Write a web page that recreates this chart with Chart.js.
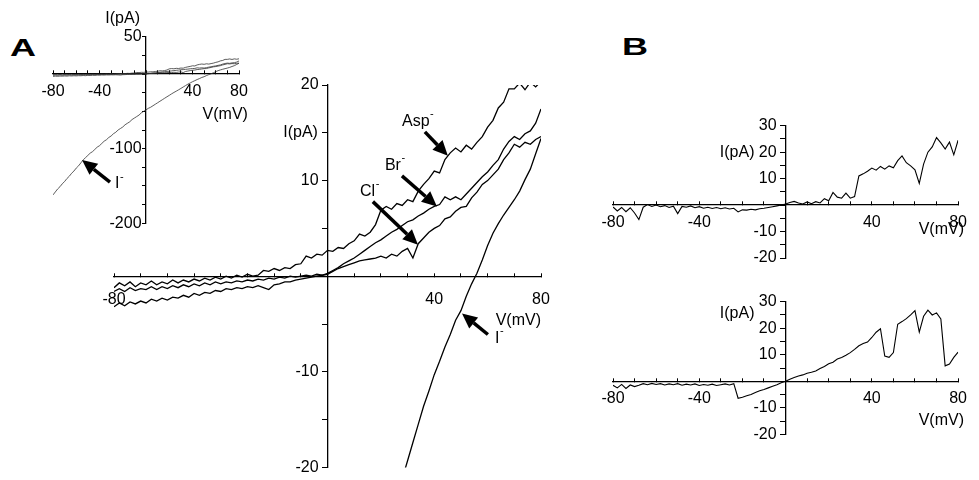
<!DOCTYPE html>
<html><head><meta charset="utf-8">
<script src="https://cdn.jsdelivr.net/npm/chart.js@4"></script>
<style>
html,body{margin:0;padding:0;background:#fff;width:979px;height:480px;overflow:hidden}
canvas{position:absolute;left:0;top:0}
.panel{position:absolute;font:bold 24px "Liberation Sans",Arial,sans-serif;line-height:24px;color:#000;transform:scaleX(1.5);transform-origin:0 0}
</style></head><body>
<div class="panel" style="left:10px;top:36px">A</div>
<div class="panel" style="left:622px;top:35px">B</div>
<canvas id="cMain" width="979" height="480"></canvas>
<canvas id="cInset" width="979" height="480"></canvas>
<canvas id="cB1" width="979" height="480"></canvas>
<canvas id="cB2" width="979" height="480"></canvas>
<script>
// ---------- data (mV, pA) ----------
const voltage = [
 -80,-78,-76,-74,-72,-70,-68,-66,-64,-62,
 -60,-58,-56,-54,-52,-50,-48,-46,-44,-42,
 -40,-38,-36,-34,-32,-30,-28,-26,-24,-22,
 -20,-18,-16,-14,-12,-10,-8,-6,-4,-2,
 0,2,4,6,8,10,12,14,16,18,
 20,22,24,26,28,30,32,34,36,38,
 40,42,44,46,48,50,52,54,56,58,
 60,62,64,66,68,70,72,74,76,78,
 80];
const iAsp = [
 -1.2,-0.7,-1.0,-0.6,-1.1,-0.7,-0.9,-0.5,-0.9,-0.6,
 -0.8,-0.4,-0.7,-0.4,-0.6,-0.3,-0.5,-0.2,-0.4,-0.1,
 -0.3,0.0,-0.2,0.1,-0.1,0.2,0.0,0.1,0.6,0.5,
 0.8,0.6,0.9,0.8,1.2,1.3,2.1,1.9,2.3,2.2,
 2.7,2.6,3.0,2.9,3.4,3.7,4.4,4.2,4.6,5.4,
 6.9,7.3,7.0,7.6,7.4,8.0,7.8,8.9,9.6,10.2,
 11.0,10.8,12.2,12.9,13.4,13.0,13.7,13.3,14.0,14.6,
 15.6,16.3,17.6,18.2,19.6,19.6,20.2,19.5,20.3,19.8,
 20.4];
const iBr = [
 -1.6,-1.3,-1.6,-1.2,-1.5,-1.3,-1.4,-1.1,-1.4,-1.1,
 -1.3,-1.0,-1.2,-0.9,-1.1,-0.8,-1.0,-0.7,-0.9,-0.6,
 -0.8,-0.6,-0.7,-0.5,-0.6,-0.4,-0.5,-0.3,-0.4,-0.2,
 -0.3,-0.1,-0.2,0.0,-0.1,0.0,0.1,0.0,0.2,0.1,
 0.3,0.6,0.9,1.3,1.6,1.9,2.3,2.7,3.1,3.5,
 3.8,4.2,4.6,4.9,5.3,5.7,5.9,6.3,6.6,7.0,
 7.3,7.5,8.3,8.0,8.3,8.0,8.6,9.2,9.8,10.4,
 10.9,11.6,12.2,13.3,14.1,14.6,14.3,14.9,15.2,16.0,
 17.5];
const iCl = [
 -3.2,-2.8,-3.1,-2.7,-2.9,-2.6,-2.8,-2.4,-2.6,-2.3,
 -2.5,-2.2,-2.3,-2.0,-2.2,-1.8,-2.0,-1.7,-1.8,-1.5,
 -1.6,-1.3,-1.4,-1.2,-1.3,-1.1,-1.2,-1.0,-1.2,-1.4,
 -0.9,-0.8,-0.6,-0.6,-0.4,-0.3,-0.2,-0.1,0.0,0.1,
 0.2,0.5,0.8,1.0,1.2,1.4,1.6,1.7,1.8,1.9,
 2.1,1.9,2.3,2.1,2.6,2.9,1.9,3.4,4.0,4.6,
 5.0,5.3,6.0,6.2,6.8,7.2,7.3,8.2,8.8,9.6,
 10.0,10.6,11.2,12.2,12.9,13.8,13.5,14.0,13.8,14.3,
 14.6];
const iIodide = [
 -162,-158,-154,-151,-147,-144,-140,-137,-133,-130,
 -126,-123,-119,-115,-112,-109,-106,-104,-101,-98,
 -96,-93,-90,-88,-85,-83,-80,-78,-75,-73,
 -71,-68,-66,-64,-61,-59,-57,-55,-52,-50,
 -48,-46,-44.5,-42.5,-40.5,-38.5,-36.5,-34.5,-32.5,-30.5,
 -28.6,-26.6,-24.7,-23.0,-21.2,-19.3,-17.4,-15.5,-13.6,-12.0,
 -10.3,-8.9,-7.4,-6.1,-4.6,-3.6,-2.1,-0.8,0.3,1.7,
 3.2,4.5,5.5,6.4,7.2,8.0,8.9,10.1,11.2,12.8,
 14.4];
const iB1 = [
 -0.7,-2.2,-0.9,-2.5,-1.0,-3.0,-5.5,-0.8,0.2,-0.5,
 0.0,-0.6,-0.2,-0.9,-0.4,-3.2,-0.5,-0.8,-0.3,-1.0,
 -0.6,-1.2,-0.8,-1.3,-0.9,-1.4,-1.0,-1.5,-1.2,-2.6,
 -1.8,-1.9,-1.6,-1.8,-1.4,-1.2,-0.9,-0.6,-0.3,0.0,
 0.4,1.0,1.4,0.8,0.4,1.2,0.5,1.3,0.8,2.4,
 1.6,4.8,3.0,2.6,4.5,2.6,3.2,11.0,11.8,12.8,
 14.0,13.2,14.6,13.6,14.8,14.1,16.8,18.6,16.0,14.8,
 13.3,8.2,15.5,20.0,22.0,25.5,23.5,21.2,23.8,19.0,
 24.5];
const iB2 = [
 -1.5,-2.5,-1.2,-2.7,-1.4,-2.0,-1.5,-0.9,-1.3,-0.8,
 -1.2,-0.9,-1.4,-1.0,-1.3,-0.9,-1.5,-1.1,-1.4,-1.0,
 -1.6,-1.2,-1.5,-1.1,-1.6,-1.3,-1.0,-1.4,-0.9,-6.4,
 -6.0,-5.5,-5.0,-4.2,-3.6,-3.1,-2.5,-1.9,-1.3,-0.6,
 0.0,0.8,1.4,2.0,2.4,3.0,3.4,3.9,4.8,5.6,
 6.6,7.2,8.4,9.0,9.8,10.8,12.0,13.4,14.2,14.8,
 16.5,18.5,19.8,9.5,9.0,10.8,21.5,22.5,23.6,25.0,
 26.6,18.5,24.5,26.8,25.0,25.8,23.5,5.8,6.5,9.0,
 11.0];

// tick labels
const mainXLabels = [-80, 40, 80];
const mainYLabels = [20, 10, -10, -20];
const insetXLabels = [-80, -40, 40, 80];
const insetYLabels = [50, -100, -200];
const bXLabels = [-80, -40, 40, 80];
const bYLabels = [30, 20, 10, -10, -20];

// text annotations (data coordinates of the owning panel)
const mainTexts = [
  {text: 'Asp', sup: '-', x: 27.9, y: 16.2},
  {text: 'Br', sup: '-', x: 21.5, y: 11.6},
  {text: 'Cl', sup: '-', x: 12.2, y: 8.9},
  {text: 'I', sup: '-', x: 62.8, y: -6.5},
  {text: 'I(pA)', x: -3.6, y: 15.0, align: 'right'},
  {text: 'V(mV)', x: 80, y: -4.6, align: 'right'}
];
const mainArrows = [
  {from: [36.5, 15.1], to: [45.1, 12.6]},
  {from: [27.9, 10.5], to: [41.0, 7.3]},
  {from: [17.0, 7.8], to: [33.9, 3.3]},
  {from: [60.1, -6.1], to: [50.4, -3.9]}
];
const insetTexts = [
  {text: 'I', sup: '-', x: -26.7, y: -146.7},
  {text: 'I(pA)', x: -5.2, y: 73.7, align: 'right'},
  {text: 'V(mV)', x: 87.7, y: -54.3, align: 'right'}
];
const insetArrows = [ {from: [-31, -144.7], to: [-55, -115.2]} ];
const b1Texts = [
  {text: 'I(pA)', x: -14.4, y: 20, align: 'right'},
  {text: 'V(mV)', x: 61.7, y: -9.3}
];
const b2Texts = [
  {text: 'I(pA)', x: -14.4, y: 25.7, align: 'right'},
  {text: 'V(mV)', x: 61.7, y: -14.9}
];

// ---------- drawing ----------
const FONT = '"Liberation Sans", Arial, sans-serif';
const W = 979, H = 480;

function annotate(texts, arrows) {
  return {
    id: 'annot',
    afterDatasetsDraw(chart) {
      const ctx = chart.ctx, xs = chart.scales.x, ys = chart.scales.y;
      ctx.save();
      ctx.fillStyle = '#000'; ctx.strokeStyle = '#000';
      arrows.forEach(a => {
        const x0 = xs.getPixelForValue(a.from[0]), y0 = ys.getPixelForValue(a.from[1]);
        const x1 = xs.getPixelForValue(a.to[0]), y1 = ys.getPixelForValue(a.to[1]);
        const ang = Math.atan2(y1 - y0, x1 - x0);
        const hl = 15, hw = 7;
        const bx = x1 - hl * Math.cos(ang), by = y1 - hl * Math.sin(ang);
        ctx.lineWidth = 3.5;
        ctx.beginPath(); ctx.moveTo(x0, y0); ctx.lineTo(bx, by); ctx.stroke();
        ctx.beginPath(); ctx.moveTo(x1, y1);
        ctx.lineTo(bx + hw * Math.sin(ang), by - hw * Math.cos(ang));
        ctx.lineTo(bx - hw * Math.sin(ang), by + hw * Math.cos(ang));
        ctx.closePath(); ctx.fill();
      });
      texts.forEach(t => {
        const px = xs.getPixelForValue(t.x), py = ys.getPixelForValue(t.y);
        ctx.font = '16px ' + FONT;
        ctx.textBaseline = 'middle';
        ctx.textAlign = t.align || 'left';
        ctx.fillText(t.text, px, py);
        if (t.sup) {
          const w = ctx.measureText(t.text).width;
          ctx.font = '11px ' + FONT;
          ctx.textAlign = 'left';
          ctx.fillText(t.sup, px + w + 0.5, py - 7);
        }
      });
      ctx.restore();
    }
  };
}

function pts(ys) { return voltage.map((v, i) => ({x: v, y: ys[i]})); }

function makeChart(id, cfg) {
  const a = cfg.area;
  const ds = cfg.series.map(s => ({
    data: pts(s), borderColor: cfg.lineColor, borderWidth: cfg.lineWidth,
    pointRadius: 0, tension: 0, fill: false
  }));
  return new Chart(document.getElementById(id), {
    type: 'line',
    data: {datasets: ds},
    options: {
      responsive: false, animation: false, devicePixelRatio: 1,
      layout: {autoPadding: false, padding: {left: a.left, right: W - a.right, top: a.top, bottom: H - a.bottom}},
      plugins: {legend: {display: false}, tooltip: {enabled: false}},
      events: [],
      scales: {
        x: {
          type: 'linear', min: -80, max: 80, position: {y: 0},
          grid: {drawOnChartArea: false, drawTicks: true, tickLength: -4, color: '#000', lineWidth: 1},
          border: {display: true, color: '#000', width: 1.3},
          ticks: {stepSize: 10, autoSkip: false, maxRotation: 0, color: '#000', padding: cfg.xPad,
            font: {family: FONT, size: 16},
            callback: v => cfg.xLabels.includes(v) ? String(v) : ''}
        },
        y: {
          type: 'linear', min: cfg.yMin, max: cfg.yMax, position: {x: 0},
          grid: {drawOnChartArea: false, drawTicks: true, tickLength: cfg.yTick, color: '#000', lineWidth: 1},
          border: {display: true, color: '#000', width: 1.3},
          ticks: {stepSize: cfg.yStep, autoSkip: false, color: '#000',
            font: {family: FONT, size: 16},
            callback: v => cfg.yLabels.includes(v) ? String(v) + cfg.yGap : ''}
        }
      }
    },
    plugins: [annotate(cfg.texts, cfg.arrows || [])]
  });
}

makeChart('cMain', {
  area: {left: 114, right: 541, top: 85, bottom: 473},
  series: [iAsp, iBr, iCl, iIodide], lineColor: '#000', lineWidth: 1.3,
  yMin: -20, yMax: 20, yStep: 5, yTick: 5, yGap: '  ', xPad: 18,
  xLabels: mainXLabels, yLabels: mainYLabels, texts: mainTexts, arrows: mainArrows
});
makeChart('cInset', {
  area: {left: 53, right: 239, top: 36.7, bottom: 223.3},
  series: [iAsp, iBr, iCl, iIodide], lineColor: '#333', lineWidth: 0.8,
  yMin: -200, yMax: 50, yStep: 25, yTick: 3, yGap: ' ', xPad: 12,
  xLabels: insetXLabels, yLabels: insetYLabels, texts: insetTexts, arrows: insetArrows
});
makeChart('cB1', {
  area: {left: 613, right: 968, top: 125.7, bottom: 258},
  series: [iB1], lineColor: '#000', lineWidth: 1.1,
  yMin: -20, yMax: 30, yStep: 5, yTick: 5, yGap: '  ', xPad: 12,
  xLabels: bXLabels, yLabels: bYLabels, texts: b1Texts
});
makeChart('cB2', {
  area: {left: 613, right: 968, top: 301.7, bottom: 434.3},
  series: [iB2], lineColor: '#000', lineWidth: 1.1,
  yMin: -20, yMax: 30, yStep: 5, yTick: 5, yGap: '  ', xPad: 12,
  xLabels: bXLabels, yLabels: bYLabels, texts: b2Texts
});
</script>
</body></html>
